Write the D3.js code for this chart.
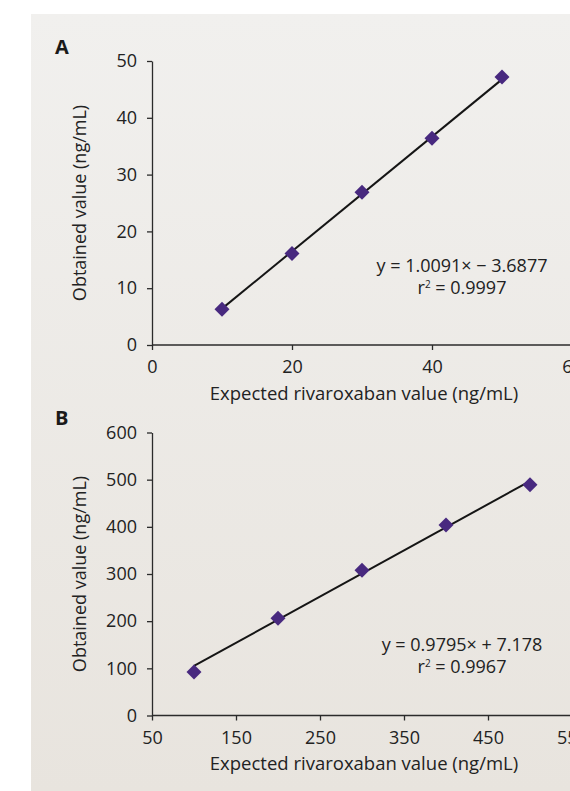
<!DOCTYPE html>
<html>
<head>
<meta charset="utf-8">
<script src="https://cdn.jsdelivr.net/npm/d3@7"></script>
<style>
  body { margin: 0; background: #fff; }
  svg { display: block; font-family: "Open Sans", "Noto Sans", sans-serif; }
  .axis path, .axis line { stroke: #2b2b2b; stroke-width: 1.3; }
  .axis text { font-size: 18px; fill: #222; font-family: "Open Sans", sans-serif; }
</style>
</head>
<body>
<svg width="570" height="791"></svg>
<script>
// panel A
var expectedA = [10, 20, 30, 40, 50];
var obtainedA = [6.3, 16.1, 26.9, 36.4, 47.2];
var xTicksA = [0, 20, 40, 60];
var yTicksA = [0, 10, 20, 30, 40, 50];
var fitA = { slope: 1.0091, intercept: -3.6877 };
var eqA = ["y = 1.0091\u00d7 \u2212 3.6877", "0.9997"];

// panel B
var expectedB = [100, 200, 300, 400, 500];
var obtainedB = [92, 206, 308, 404, 489];
var xTicksB = [50, 150, 250, 350, 450, 550];
var yTicksB = [0, 100, 200, 300, 400, 500, 600];
var fitB = { slope: 0.9795, intercept: 7.178 };
var eqB = ["y = 0.9795\u00d7 + 7.178", "0.9967"];

var svg = d3.select("svg"),
  width = +svg.attr("width"),
  height = +svg.attr("height");

var grad = svg.append("defs").append("linearGradient")
  .attr("id", "bg").attr("x1", 0).attr("y1", 0).attr("x2", 0).attr("y2", 1);
grad.append("stop").attr("offset", "0%").attr("stop-color", "#f1f0ee");
grad.append("stop").attr("offset", "100%").attr("stop-color", "#e8e4de");

svg.append("rect")
  .attr("x", 31).attr("y", 14)
  .attr("width", width - 31).attr("height", height - 14)
  .attr("fill", "url(#bg)");

function drawPanel(opt) {
  var x = d3.scaleLinear().domain(opt.xDomain).range([152, 572]);
  var y = d3.scaleLinear().domain(opt.yDomain).range(opt.yRange);
  var g = svg.append("g");

  g.append("g")
    .attr("class", "axis")
    .attr("transform", "translate(0," + y(opt.yDomain[0]) + ")")
    .call(d3.axisBottom(x).tickValues(opt.xTicks).tickSize(5).tickPadding(10.5).tickSizeOuter(0))
    .call(a => a.select(".domain").attr("d", "M152,0H572"));

  g.append("g")
    .attr("class", "axis")
    .attr("transform", "translate(152,0)")
    .call(d3.axisLeft(y).tickValues(opt.yTicks).tickSize(5).tickPadding(10).tickSizeOuter(0));

  // trend line between first and last point
  var x0 = opt.xs[0], x1 = opt.xs[opt.xs.length - 1];
  g.append("line")
    .attr("x1", x(x0)).attr("y1", y(opt.fit.slope * x0 + opt.fit.intercept))
    .attr("x2", x(x1)).attr("y2", y(opt.fit.slope * x1 + opt.fit.intercept))
    .attr("stroke", "#151515").attr("stroke-width", 2);

  g.append("g").selectAll("path")
    .data(opt.xs)
    .enter().append("path")
    .attr("d", d3.symbol(d3.symbolSquare, 112))
    .attr("transform", function (d, i) {
      return "translate(" + x(d) + "," + y(opt.ys[i]) + ") rotate(45)";
    })
    .attr("fill", "#48297f");

  g.append("text")
    .attr("x", 55).attr("y", opt.letterY)
    .attr("font-size", 20).attr("font-weight", "bold").attr("fill", "#1a1a1a")
    .text(opt.letter);

  var yMid = (opt.yRange[0] + opt.yRange[1]) / 2;
  g.append("text")
    .attr("transform", "translate(86," + yMid + ") rotate(-90)")
    .attr("text-anchor", "middle")
    .attr("font-size", 18).attr("fill", "#222")
    .text("Obtained value (ng/mL)");

  g.append("text")
    .attr("x", 364).attr("y", y(opt.yDomain[0]) + 54.5)
    .attr("text-anchor", "middle")
    .attr("font-size", 18.5).attr("fill", "#222")
    .text("Expected rivaroxaban value (ng/mL)");

  g.append("text")
    .attr("x", 462).attr("y", opt.eqY)
    .attr("text-anchor", "middle")
    .attr("font-size", 18).attr("fill", "#222")
    .text(opt.eq[0]);

  var r = g.append("text")
    .attr("x", 462).attr("y", opt.eqY + 22)
    .attr("text-anchor", "middle")
    .attr("font-size", 18).attr("fill", "#222");
  r.append("tspan").text("r");
  r.append("tspan").attr("font-size", 10).attr("dy", -5.5).text("2");
  r.append("tspan").attr("dy", 5.5).text(" = " + opt.eq[1]);
}

drawPanel({
  letter: "A", letterY: 54,
  xDomain: [0, 60], yDomain: [0, 50], yRange: [345, 61],
  xTicks: xTicksA, yTicks: yTicksA,
  xs: expectedA, ys: obtainedA, fit: fitA,
  eq: eqA, eqY: 271.5
});

drawPanel({
  letter: "B", letterY: 425,
  xDomain: [50, 550], yDomain: [0, 600], yRange: [715.5, 432.5],
  xTicks: xTicksB, yTicks: yTicksB,
  xs: expectedB, ys: obtainedB, fit: fitB,
  eq: eqB, eqY: 650.5
});
</script>
</body>
</html>
